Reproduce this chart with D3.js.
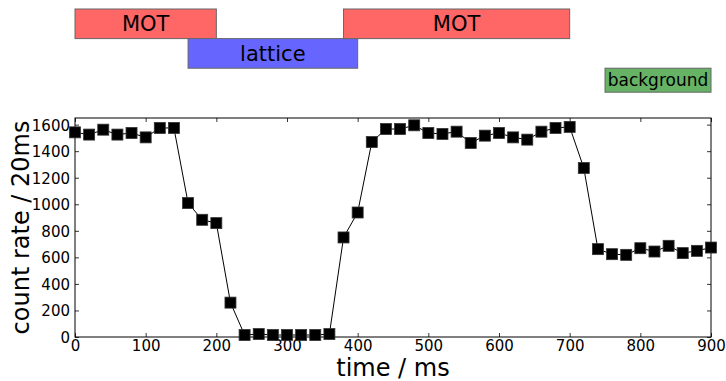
<!DOCTYPE html>
<html>
<head>
<meta charset="utf-8">
<script src="https://cdn.jsdelivr.net/npm/d3@7"></script>
<style>
  body { margin: 0; background: #fff; }
  svg { display: block; font-family: "DejaVu Sans", sans-serif; }
</style>
</head>
<body>
<div id="chart"></div>
<script>
// measured count rate, one point every 20 ms
const times = d3.range(0, 901, 20);
const counts = [
  1542, 1525, 1562, 1525, 1537, 1504, 1575, 1575, 1009, 883,
  858, 259, 15, 22, 15, 15, 15, 15, 22, 750,
  938, 1469, 1567, 1567, 1595, 1537, 1530, 1547, 1462, 1517,
  1537, 1504, 1487, 1547, 1575, 1583, 1273, 662, 624, 619,
  669, 644, 687, 632, 649, 674
];

// timing sequence bars above the plot
const phaseNames = ['MOT', 'lattice', 'MOT', 'background'];
const phaseStart = [0, 160, 380, 750];
const phaseEnd = [200, 400, 700, 900];
const phaseRow = [0, 1, 0, 2];
const phaseColors = ['#ff6666', '#6666ff', '#ff6666', '#66b366'];

const xTicks = [0, 100, 200, 300, 400, 500, 600, 700, 800, 900];
const yTicks = [0, 200, 400, 600, 800, 1000, 1200, 1400, 1600];

const W = 726, H = 381;
const margin = { top: 118, right: 15, bottom: 44, left: 75 };
const width = W - margin.left - margin.right;
const height = H - margin.top - margin.bottom;

const svg = d3.select('#chart').append('svg')
  .attr('width', W)
  .attr('height', H);

const x = d3.scaleLinear().domain([0, 900]).range([0, width]);
const y = d3.scaleLinear().domain([0, 1650]).range([height, 0]);

// ---- timing bars
const rowY = d3.scaleBand().domain([0, 1, 2]).range([9, 97.8]);
const bars = svg.append('g').attr('transform', `translate(${margin.left},0)`);
phaseNames.forEach((name, i) => {
  const isBg = name === 'background';
  const h = isBg ? 24 : rowY.bandwidth();
  const y0 = rowY(phaseRow[i]);
  bars.append('rect')
    .attr('x', x(phaseStart[i]))
    .attr('y', y0)
    .attr('width', x(phaseEnd[i]) - x(phaseStart[i]))
    .attr('height', h)
    .attr('fill', phaseColors[i])
    .attr('stroke', '#666')
    .attr('stroke-width', 1);
  bars.append('text')
    .attr('x', (x(phaseStart[i]) + x(phaseEnd[i])) / 2)
    .attr('y', y0 + h / 2)
    .attr('dy', '0.36em')
    .attr('text-anchor', 'middle')
    .attr('font-size', isBg ? 17 : 21)
    .attr('fill', '#000')
    .text(name);
});

// ---- main plot
const g = svg.append('g').attr('transform', `translate(${margin.left},${margin.top})`);

const axisStyle = sel => {
  sel.select('.domain').remove();
  sel.selectAll('.tick line').attr('stroke', '#000').attr('stroke-width', 0.8);
  sel.selectAll('.tick text').attr('font-size', 15).attr('fill', '#000')
    .attr('font-family', '"DejaVu Sans", sans-serif');
};

g.append('g').attr('transform', `translate(0,${height})`)
  .call(d3.axisBottom(x).tickValues(xTicks).tickSize(-4).tickPadding(3).tickFormat(d3.format('d')))
  .call(axisStyle);
g.append('g')
  .call(d3.axisTop(x).tickValues(xTicks).tickSize(-4).tickFormat(''))
  .call(axisStyle);
g.append('g')
  .call(d3.axisLeft(y).tickValues(yTicks).tickSize(-4).tickPadding(5).tickFormat(d3.format('d')))
  .call(axisStyle)
  .selectAll('.tick text').attr('dy', '0.36em');
g.append('g').attr('transform', `translate(${width},0)`)
  .call(d3.axisRight(y).tickValues(yTicks).tickSize(-4).tickFormat(''))
  .call(axisStyle);

// frame
g.append('rect')
  .attr('width', width).attr('height', height)
  .attr('fill', 'none').attr('stroke', '#000').attr('stroke-width', 1);

const pts = times.map((t, i) => [t, counts[i]]);

g.append('path')
  .datum(pts)
  .attr('fill', 'none')
  .attr('stroke', '#000')
  .attr('stroke-width', 1)
  .attr('d', d3.line().x(d => x(d[0])).y(d => y(d[1])));

const ms = 11;
g.append('g').selectAll('rect')
  .data(pts)
  .join('rect')
  .attr('x', d => x(d[0]) - ms / 2)
  .attr('y', d => y(d[1]) - ms / 2)
  .attr('width', ms)
  .attr('height', ms)
  .attr('fill', '#000')
  .attr('stroke', '#333')
  .attr('stroke-width', 0.8);

// axis labels
svg.append('text')
  .attr('x', margin.left + width / 2)
  .attr('y', 376)
  .attr('text-anchor', 'middle')
  .attr('font-size', 24)
  .text('time / ms');

svg.append('text')
  .attr('transform', `translate(29,${margin.top + height / 2}) rotate(-90)`)
  .attr('text-anchor', 'middle')
  .attr('font-size', 24)
  .text('count rate / 20ms');
</script>
</body>
</html>
